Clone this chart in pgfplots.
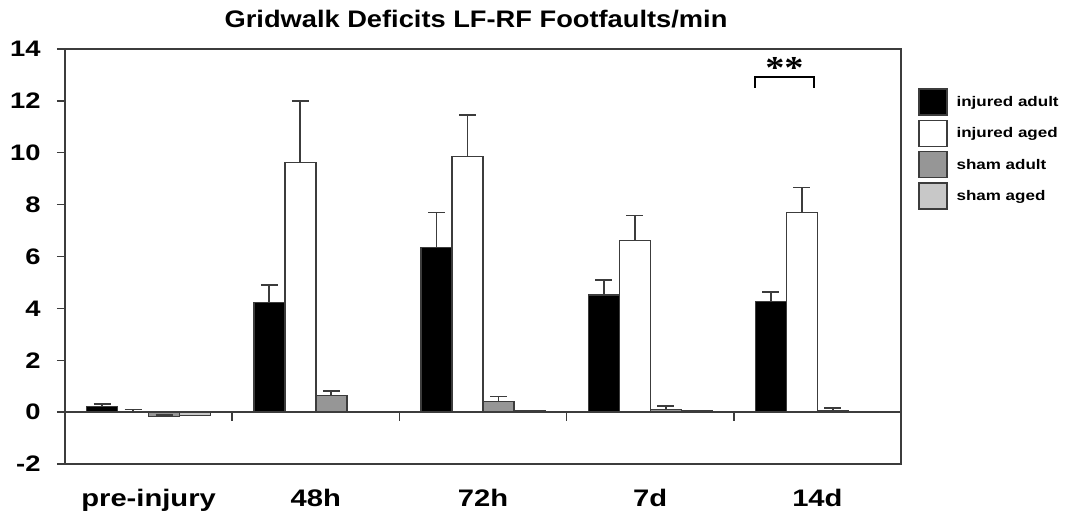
\documentclass[border=0pt]{standalone}
\usepackage{pgfplots}
\pgfplotsset{compat=1.18}
\usepackage{fontspec}
\setmainfont{Liberation Sans}[FakeStretch=1.22]
\newfontfamily\titlefont{Liberation Sans}[FakeStretch=1.14]
\newfontfamily\starfont{Liberation Serif}[FakeStretch=1.2]

\definecolor{shamadult}{RGB}{150,150,150}
\definecolor{shamaged}{RGB}{200,200,200}
\definecolor{edge}{RGB}{60,60,60}

\pgfplotsset{
  lgd/.style={legend image code/.code={%
      \draw[##1, draw=edge, line width=1.4bp] (0bp,-13bp) rectangle (28bp,13bp);}},
}

\begin{document}
\begin{tikzpicture}
\useasboundingbox (0,0) rectangle (1065bp,531bp);
\begin{axis}[
  at={(65bp,67bp)}, anchor=south west,
  scale only axis, width=836bp, height=415bp,
  xmin=-0.5, xmax=4.5, ymin=-2, ymax=14,
  ybar=0pt, bar width=31bp,
  xtick={0,1,2,3,4},
  xticklabels={pre-injury,48h,72h,7d,14d},
  x tick label style={font=\bfseries\fontsize{24}{26}\selectfont, yshift=-14bp},
  xtick style={draw=none},
  ytick={-2,0,2,4,6,8,10,12,14},
  yticklabels={-2,0,2,4,6,8,10,12,14},
  y tick label style={font=\bfseries\fontsize{22.5}{24}\selectfont, xshift=-13bp},
  ytick pos=left, tick align=outside, major tick length=8bp,
  y tick style={line width=1.4bp, edge},
  axis line style={line width=1.6bp, edge},
  title={\titlefont\bfseries Gridwalk Deficits LF-RF Footfaults/min},
  title style={font=\fontsize{24}{26}\selectfont, at={(0.5,1)}, anchor=base,
    yshift=16bp, xshift=-7bp},
  legend style={at={(1.0203,0.906)}, anchor=north west, draw=none, fill=none,
    inner sep=0pt, row sep=4bp, column sep=7bp, cells={anchor=west},
    font=\bfseries\fontsize{14}{16}\selectfont},
  every axis plot/.append style={draw=edge, line width=1.4bp},
  error bars/y dir=plus, error bars/y explicit,
  error bars/error bar style={line width=1.8bp, edge},
  error bars/error mark options={rotate=90, mark size=8.5bp, line width=1.8bp, edge},
  clip=false,
]
% baseline at zero with group separators
\draw[line width=1.6bp, edge] (axis cs:-0.5,0) -- (axis cs:4.5,0);
\draw[line width=1.6bp, edge] (axis cs:0.5,0) -- (axis cs:0.5,-0.36);
\draw[line width=1.6bp, edge] (axis cs:1.5,0) -- (axis cs:1.5,-0.36);
\draw[line width=1.6bp, edge] (axis cs:2.5,0) -- (axis cs:2.5,-0.36);
\draw[line width=1.6bp, edge] (axis cs:3.5,0) -- (axis cs:3.5,-0.36);

\addplot[fill=black, lgd] coordinates {
  (0,0.22) +- (0,0.08)
  (1,4.23) +- (0,0.67)
  (2,6.35) +- (0,1.35)
  (3,4.52) +- (0,0.58)
  (4,4.27) +- (0,0.37)
};
\addplot[fill=white, lgd] coordinates {
  (0,0.02) +- (0,0.08)
  (1,9.63) +- (0,2.35)
  (2,9.86) +- (0,1.58)
  (3,6.62) +- (0,0.96)
  (4,7.70) +- (0,0.96)
};
\addplot[fill=shamadult, lgd] coordinates {
  (0,-0.18) +- (0,0.06)
  (1,0.65) +- (0,0.15)
  (2,0.42) +- (0,0.18)
  (3,0.10) +- (0,0.13)
  (4,0.05) +- (0,0.12)
};
\addplot[fill=shamaged, lgd] coordinates {
  (0,-0.13) +- (0,0)
  (1,0.00) +- (0,0)
  (2,0.04) +- (0,0)
  (3,0.04) +- (0,0)
  (4,0.00) +- (0,0)
};
\legend{injured adult, injured aged, sham adult, sham aged}

% significance bracket between the 14d injured groups
\draw[line width=1.8bp, black] (axis cs:3.627,12.5) -- (axis cs:3.627,12.93)
  -- (axis cs:3.979,12.93) -- (axis cs:3.979,12.5);
\node[anchor=base, inner sep=0pt, font=\starfont\bfseries\fontsize{32}{32}\selectfont]
  at (axis cs:3.803,12.88) {**};
\end{axis}
\end{tikzpicture}
\end{document}
